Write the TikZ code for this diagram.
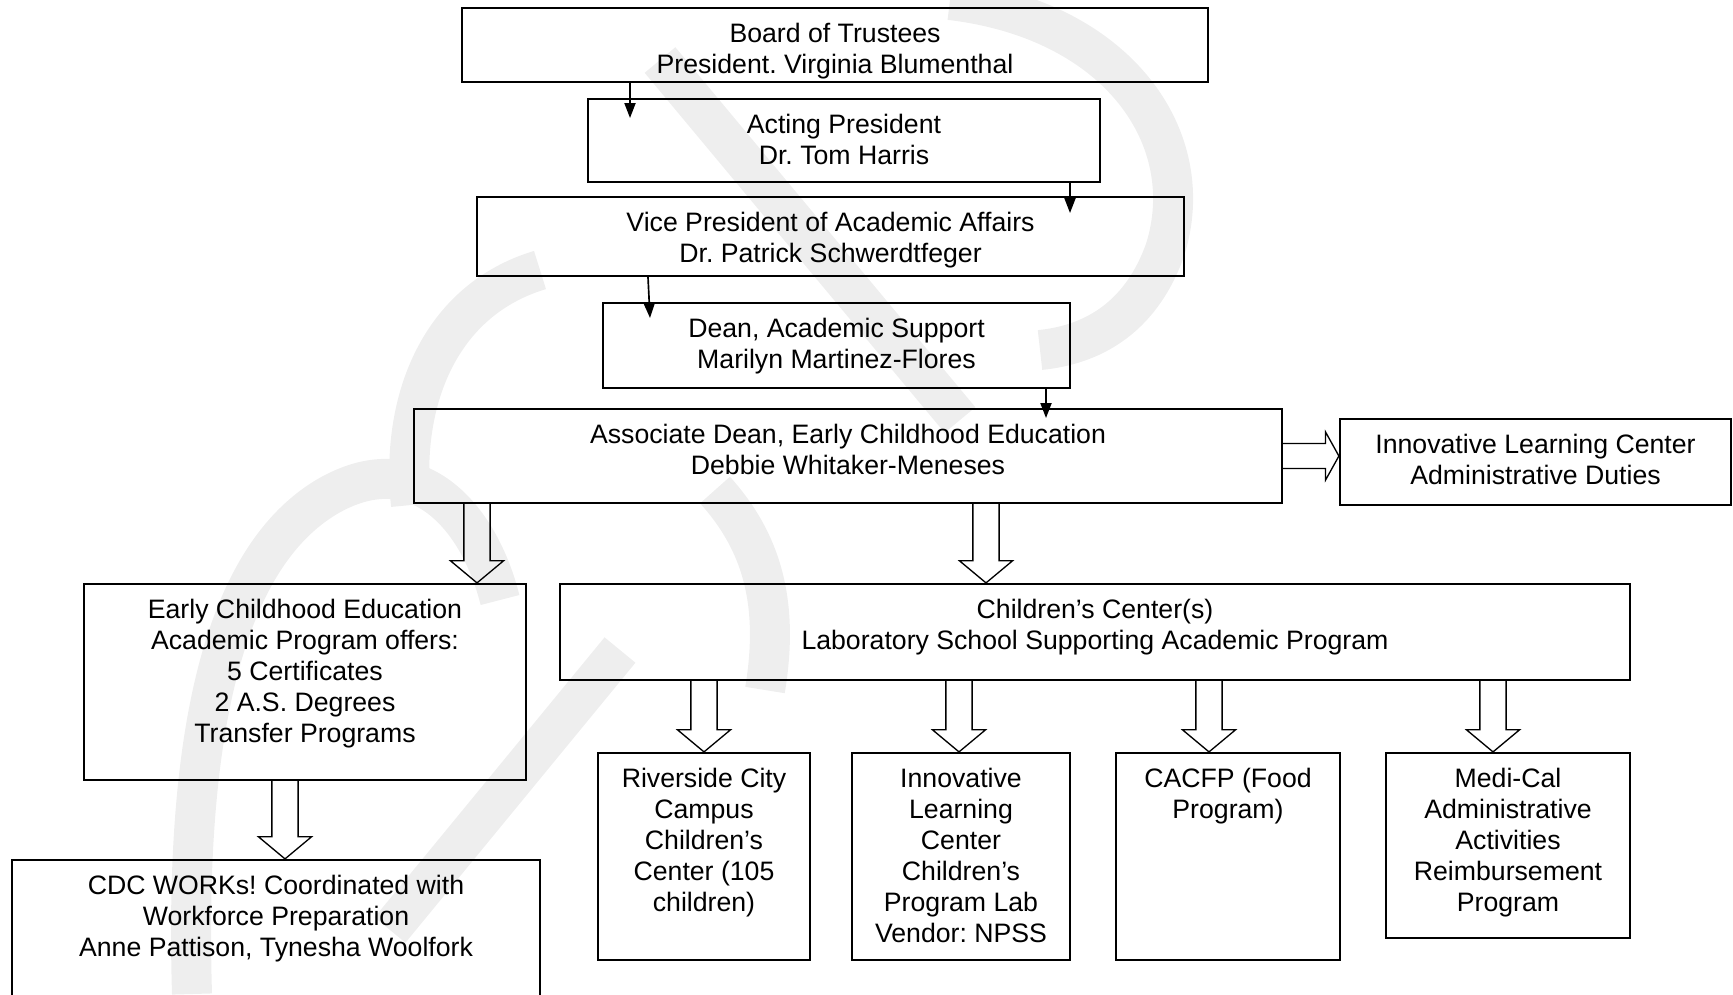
\documentclass[tikz,border=0pt]{standalone}
\usepackage{fontspec}
\setmainfont{Liberation Sans}
\usetikzlibrary{arrows.meta,positioning,fit,calc}
\definecolor{wmgray}{gray}{0.935}
\tikzset{
  orgbox/.style={draw, line width=1pt, inner sep=0pt},
  boxtext/.style={anchor=north, align=center, inner xsep=0pt, inner ysep=7pt, font=\fontsize{12}{13.95}\selectfont\frenchspacing},
  linkarrow/.style={line width=0.75pt, -{Triangle[length=6.75pt,width=5pt]}},
  blockarrow/.style={line width=0.6pt, line join=miter},
  watermark/.style={wmgray, line width=18pt}
}
% hollow arrow: source node, target node, coordinate giving the x (or y) position
\newcommand{\blockdown}[3]{%
  \draw[blockarrow] ([xshift=-5.9pt]#1.south -| #3) -- ([xshift=-5.9pt,yshift=10pt]#2.north -| #3)
    -- ([xshift=-12pt,yshift=10pt]#2.north -| #3) -- (#2.north -| #3)
    -- ([xshift=12pt,yshift=10pt]#2.north -| #3) -- ([xshift=5.9pt,yshift=10pt]#2.north -| #3)
    -- ([xshift=5.9pt]#1.south -| #3);}
\newcommand{\blockright}[3]{%
  \draw[blockarrow] ([yshift=5.6pt]#1.east |- #3) -- ([xshift=-6pt,yshift=5.6pt]#2.west |- #3)
    -- ([xshift=-6pt,yshift=10.8pt]#2.west |- #3) -- (#2.west |- #3)
    -- ([xshift=-6pt,yshift=-10.8pt]#2.west |- #3) -- ([xshift=-6pt,yshift=-5.6pt]#2.west |- #3)
    -- ([yshift=-5.6pt]#1.east |- #3);}

\begin{document}
\begin{tikzpicture}[x=0.45pt, y=-0.45pt]
    \useasboundingbox (0,0) rectangle (1733,994);
    \clip (0,0) rectangle (1733,994);

    % watermark
    \draw[watermark] (192,994) .. controls (185,760) and (215,560) .. (330,495) .. controls (420,445) and (480,520) .. (500,600);
    \draw[watermark] (411,505) .. controls (400,400) and (440,300) .. (540,270);
    \draw[watermark] (660,60) -- (960,420);
    \draw[watermark] (950,0) .. controls (1120,20) and (1200,140) .. (1165,250) .. controls (1140,320) and (1090,345) .. (1040,350);
    \draw[watermark] (620,650) -- (390,930);
    \draw[watermark] (715,490) .. controls (760,540) and (780,600) .. (765,690);

    % upper chain
    \node[orgbox, fit={(462,8) (1208,82)}, label={[boxtext]north:{Board of Trustees\\President. Virginia Blumenthal}}] (board) {};
    \node[orgbox, fit={(588,99) (1100,182)}, label={[boxtext]north:{Acting President\\Dr. Tom Harris}}] (acting) {};
    \node[orgbox, fit={(477,197) (1184,276)}, label={[boxtext]north:{Vice President of Academic Affairs\\Dr. Patrick Schwerdtfeger}}] (vp) {};
    \node[orgbox, fit={(603,303) (1070,388)}, label={[boxtext]north:{Dean, Academic Support\\Marilyn Martinez-Flores}}] (dean) {};
    \node[orgbox, fit={(414,409) (1282,503)}, label={[boxtext]north:{Associate Dean, Early Childhood Education\\Debbie Whitaker-Meneses}}] (assoc) {};
    \node[orgbox, fit={(1340,419) (1731,505)}, label={[boxtext]north:{Innovative Learning Center\\Administrative Duties}}] (ilcadmin) {};

    % programs
    \node[orgbox, fit={(84,584) (526,780)}, label={[boxtext]north:{Early Childhood Education\\Academic Program offers:\\5 Certificates\\2 A.S. Degrees\\Transfer Programs}}] (ece) {};
    \node[orgbox, fit={(560,584) (1630,680)}, label={[boxtext]north:{Children’s Center(s)\\Laboratory School Supporting Academic Program}}] (center) {};
    \node[orgbox, fit={(12,860) (540,1010)}, label={[boxtext]north:{CDC WORKs! Coordinated with\\Workforce Preparation\\Anne Pattison, Tynesha Woolfork}}] (cdc) {};

    % centers
    \node[orgbox, fit={(598,753) (810,960)}, label={[boxtext]north:{Riverside City\\Campus\\Children’s\\Center (105\\children)}}] (riverside) {};
    \node[orgbox, fit={(852,753) (1070,960)}, label={[boxtext]north:{Innovative\\Learning\\Center\\Children’s\\Program Lab\\Vendor: NPSS}}] (ilclab) {};
    \node[orgbox, fit={(1116,753) (1340,960)}, label={[boxtext]north:{CACFP (Food\\Program)}}] (cacfp) {};
    \node[orgbox, fit={(1386,753) (1630,938)}, label={[boxtext]north:{Medi-Cal\\Administrative\\Activities\\Reimbursement\\Program}}] (medical) {};

    % thin arrows
    \coordinate (tipA) at (630,118);
    \coordinate (tipB) at (1070,213);
    \coordinate (startC) at (648,0);
    \coordinate (tipC) at (650,318);
    \coordinate (tipD) at (1046,418);
    \draw[linkarrow] (board.south -| tipA) -- (tipA);
    \draw[linkarrow] (acting.south -| tipB) -- (tipB);
    \draw[linkarrow] (vp.south -| startC) -- (tipC);
    \draw[linkarrow] (dean.south -| tipD) -- (tipD);

    % hollow arrows
    \coordinate (xece) at (477,0);
    \coordinate (xcenter) at (986,0);
    \coordinate (yadmin) at (0,456);
    \coordinate (xcdc) at (285,0);
    \coordinate (xriv) at (704,0);
    \coordinate (xlab) at (959,0);
    \coordinate (xfood) at (1209,0);
    \coordinate (xmedi) at (1493,0);
    \blockdown{assoc}{ece}{xece}
    \blockdown{assoc}{center}{xcenter}
    \blockright{assoc}{ilcadmin}{yadmin}
    \blockdown{ece}{cdc}{xcdc}
    \blockdown{center}{riverside}{xriv}
    \blockdown{center}{ilclab}{xlab}
    \blockdown{center}{cacfp}{xfood}
    \blockdown{center}{medical}{xmedi}
\end{tikzpicture}
\end{document}
